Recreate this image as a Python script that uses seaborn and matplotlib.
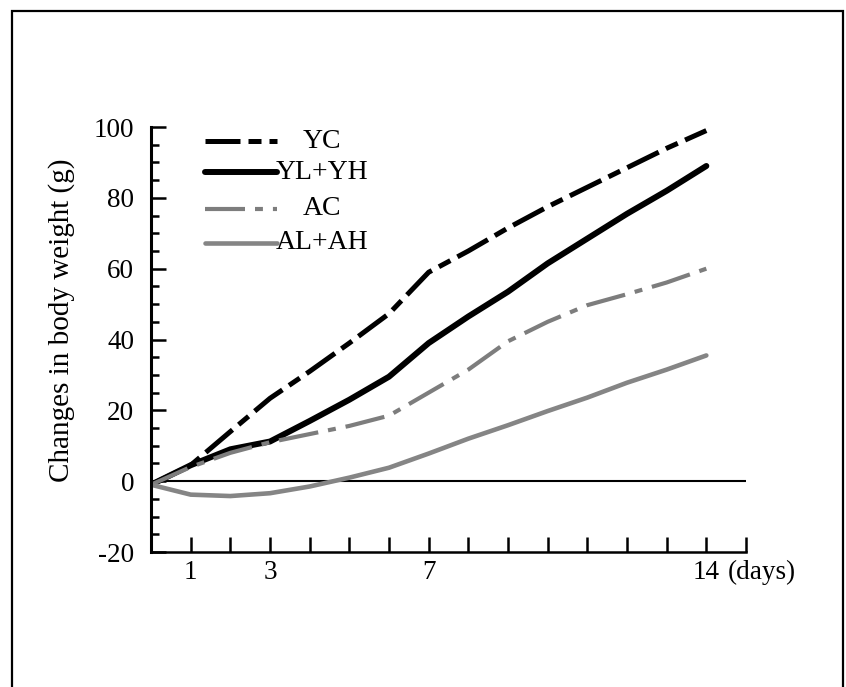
import numpy as np
import pandas as pd
import seaborn as sns
import matplotlib.pyplot as plt
from matplotlib.lines import Line2D
from matplotlib.patches import Rectangle
from matplotlib.ticker import FixedLocator, FixedFormatter, MultipleLocator
from matplotlib.transforms import ScaledTranslation

# values (days, change in body weight in g)
days = [0, 1, 2, 3, 4, 5, 6, 7, 8, 9, 10, 11, 12, 13, 14]
yc = [-1, 4.5, 14, 23.4, 31, 39, 47.3, 59, 65, 71.5, 77.5, 83, 88.5, 94, 99]
yl_yh = [-1, 4.5, 9, 11.2, 17, 23, 29.5, 39, 46.5, 53.5, 61.5, 68.5, 75.5, 82, 89]
ac = [-1, 4, 8, 11, 13.3, 15.6, 18.5, 25, 31.5, 39.5, 45, 49.7, 52.8, 56.1, 60]
al_ah = [-1, -3.8, -4.2, -3.4, -1.5, 1, 3.8, 7.8, 12, 15.8, 19.8, 23.6, 27.8, 31.5, 35.5]

series_names = ["YC", "YL+YH", "AC", "AL+AH"]
x_ticks = list(range(1, 16))
x_tick_text = {1: "1", 3: "3", 7: "7", 14: "14"}
y_ticks = [-20, 0, 20, 40, 60, 80, 100]

sns.set_theme(style="white")
plt.rcParams["font.family"] = ["Liberation Serif", "DejaVu Serif"]
plt.rcParams["axes.unicode_minus"] = False
for key in ["text.color", "axes.labelcolor", "xtick.color", "ytick.color",
            "xtick.labelcolor", "ytick.labelcolor"]:
    plt.rcParams[key] = "black"

styles = {
    "YC": dict(color="black", lw=3.6, dashes=(7, 1.6, 2.6, 1.6)),
    "YL+YH": dict(color="black", lw=4.3, dashes=None),
    "AC": dict(color="#7d7d7d", lw=3.0, dashes=(9.6, 2.4, 1.9, 2.4)),
    "AL+AH": dict(color="#858585", lw=3.3, dashes=None),
}

df = pd.DataFrame({"day": days, "YC": yc, "YL+YH": yl_yh, "AC": ac, "AL+AH": al_ah})

fig = plt.figure(figsize=(8.46, 6.87), dpi=100)
ax = fig.add_axes([0.1785, 0.1965, 0.7033, 0.6186])

ax.axhline(0, color="black", lw=1.5, zorder=1)

for name in series_names:
    st = styles[name]
    sns.lineplot(data=df, x="day", y=name, ax=ax, color=st["color"], linewidth=st["lw"])
    line = ax.lines[-1]
    line.set_solid_joinstyle("round")
    if st["dashes"] is not None:
        line.set_dashes(st["dashes"])

ax.set_xlim(0, 15)
ax.set_ylim(-20, 100)

for side in ["top", "right"]:
    ax.spines[side].set_visible(False)
ax.spines["left"].set_linewidth(2.2)
ax.spines["bottom"].set_linewidth(1.8)
ax.spines["left"].set_color("black")
ax.spines["bottom"].set_color("black")

ax.xaxis.set_major_locator(FixedLocator(x_ticks))
ax.xaxis.set_major_formatter(FixedFormatter([x_tick_text.get(d, "") for d in x_ticks]))
ax.yaxis.set_major_locator(FixedLocator(y_ticks))
ax.yaxis.set_major_formatter(FixedFormatter([str(v) for v in y_ticks]))
ax.yaxis.set_minor_locator(MultipleLocator(5))

ax.tick_params(axis="x", which="major", direction="in", length=11, width=1.8,
               color="black", labelcolor="black", labelsize=19.5, pad=6, bottom=True)
ax.tick_params(axis="y", which="major", direction="in", length=11, width=1.8,
               color="black", labelcolor="black", labelsize=19.5, pad=12, left=True)
ax.tick_params(axis="y", which="minor", direction="in", length=6, width=1.8,
               color="black", left=True)

ax.set_xlabel("")
ax.set_ylabel("Changes in body weight (g)", fontsize=21, va="center", color="black")
ax.yaxis.set_label_coords(-0.15, 0.546)

# "(days)" after the 14 tick label
offset = ScaledTranslation(0, -6 / 72, fig.dpi_scale_trans)
ax.text(0.969, 0, "(days)", transform=ax.transAxes + offset, ha="left", va="top",
        fontsize=19.5, color="black")

# hand-placed legend as in the original
legend_rows = [0.967, 0.893, 0.808, 0.728]
for name, yrow in zip(series_names, legend_rows):
    st = styles[name]
    h = Line2D([0.091, 0.212], [yrow, yrow], transform=ax.transAxes, color=st["color"],
               lw=st["lw"], clip_on=False)
    if st["dashes"] is not None:
        h.set_dashes(st["dashes"])
    ax.add_line(h)
    ax.text(0.288, yrow, name, transform=ax.transAxes, ha="center", va="center",
            fontsize=20, color="black")

# outer frame of the figure panel
fig.patches.append(Rectangle((12 / 846, -0.1), 831 / 846, 1.1 - 11 / 687,
                             transform=fig.transFigure, fill=False,
                             edgecolor="black", lw=1.6))

fig.savefig("out.png", dpi=100)
